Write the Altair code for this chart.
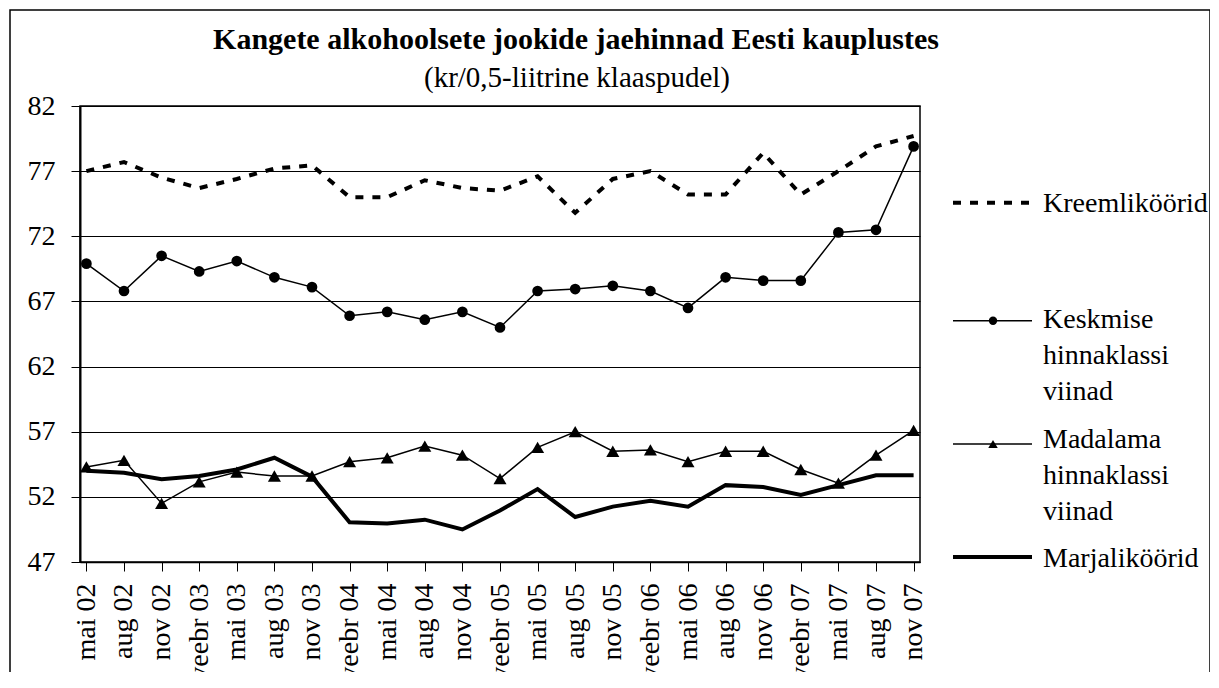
import altair as alt
import pandas as pd

months = ["mai 02", "aug 02", "nov 02", "veebr 03", "mai 03", "aug 03", "nov 03",
          "veebr 04", "mai 04", "aug 04", "nov 04", "veebr 05", "mai 05", "aug 05",
          "nov 05", "veebr 06", "mai 06", "aug 06", "nov 06", "veebr 07", "mai 07",
          "aug 07", "nov 07"]

kreem = [77.0, 77.7, 76.5, 75.7, 76.4, 77.2, 77.45, 75.0, 75.0, 76.3, 75.7, 75.5,
         76.6, 73.8, 76.4, 77.0, 75.2, 75.2, 78.4, 75.2, 77.0, 78.9, 79.7]
keskmise = [69.9, 67.8, 70.5, 69.3, 70.1, 68.85, 68.1, 65.9, 66.2, 65.6, 66.2, 65.0,
            67.8, 67.95, 68.2, 67.8, 66.5, 68.85, 68.6, 68.6, 72.3, 72.5, 78.9]
madalama = [54.3, 54.8, 51.5, 53.15, 53.9, 53.6, 53.6, 54.7, 55.0, 55.9, 55.2, 53.4,
            55.8, 57.0, 55.5, 55.6, 54.7, 55.5, 55.5, 54.1, 53.05, 55.2, 57.1]
marja = [54.0, 53.85, 53.35, 53.6, 54.1, 55.0, 53.55, 50.05, 49.95, 50.25, 49.5, 50.95,
         52.6, 50.45, 51.25, 51.7, 51.25, 52.9, 52.75, 52.15, 52.9, 53.65, 53.65]

y_ticks = [47, 52, 57, 62, 67, 72, 77, 82]

title_text = "Kangete alkohoolsete jookide jaehinnad Eesti kauplustes"
subtitle_text = "(kr/0,5-liitrine klaaspudel)"
legend_labels = ["Kreemliköörid", "Keskmise\nhinnaklassi\nviinad",
                 "Madalama\nhinnaklassi\nviinad", "Marjaliköörid"]

FONT = "Liberation Serif"

df = pd.DataFrame({"kuu": months, "kreem": kreem, "keskmise": keskmise,
                   "madalama": madalama, "marja": marja})

x_enc = alt.X("kuu:N", sort=months,
              scale=alt.Scale(type="point", padding=0.17),
              axis=alt.Axis(title=None, labelAngle=270, labelAlign="right",
                            labelBaseline="middle", labelFont=FONT, labelFontSize=28,
                            labelColor="black", labelPadding=12, tickSize=9,
                            tickColor="black", domainColor="black", domainWidth=1.5,
                            grid=False, labelOverlap=False))

y_axis = alt.Axis(title=None, values=y_ticks, grid=True, gridColor="black",
                  gridWidth=1, tickSize=9, tickColor="black", domainColor="black",
                  domainWidth=2, labelFont=FONT, labelFontSize=28, labelColor="black",
                  labelPadding=16)


def y_enc(col):
    return alt.Y(f"{col}:Q", scale=alt.Scale(domain=[47, 82], nice=False, zero=False),
                 axis=y_axis)


base = alt.Chart(df)

l_kreem = base.mark_line(color="black", strokeWidth=4, strokeDash=[8, 9]).encode(
    x=x_enc, y=y_enc("kreem"))
l_kesk = base.mark_line(color="black", strokeWidth=1.5).encode(x=x_enc, y=y_enc("keskmise"))
p_kesk = base.mark_point(filled=True, color="black", opacity=1, shape="circle",
                         size=115).encode(x=x_enc, y=y_enc("keskmise"))
l_mada = base.mark_line(color="black", strokeWidth=1.5).encode(x=x_enc, y=y_enc("madalama"))
p_mada = base.mark_point(filled=True, color="black", opacity=1, shape="triangle-up",
                         size=170).encode(x=x_enc, y=y_enc("madalama"))
l_marja = base.mark_line(color="black", strokeWidth=4).encode(x=x_enc, y=y_enc("marja"))

one = alt.Data(values=[{"k": 0}])

frame = alt.Chart(one).mark_rect(fillOpacity=0, stroke="black", strokeWidth=1.5).encode(
    x=alt.value(-70), x2=alt.value(1130), y=alt.value(-96), y2=alt.value(700))

joonis = alt.Chart(one).mark_text(text="Joonis 6", align="left", baseline="alphabetic",
                                  font=FONT, fontSize=28, color="black").encode(
    x=alt.value(1085), y=alt.value(-98))

title = alt.Chart(one).mark_text(text=title_text, align="center", baseline="alphabetic",
                                 font=FONT, fontSize=30, fontWeight="bold",
                                 color="black").encode(x=alt.value(496), y=alt.value(-57))
subtitle = alt.Chart(one).mark_text(text=subtitle_text, align="center",
                                    baseline="alphabetic", font=FONT, fontSize=29,
                                    color="black").encode(x=alt.value(497), y=alt.value(-19))

# legend
lg_x1, lg_x2, lg_mid, lg_tx = 873, 952, 913, 963
lg_rule_y = [96.7, 214.7, 338, 451]
lg_text_y = [106, 222, 342, 461]

leg = []
leg.append(alt.Chart(one).mark_rule(color="black", strokeWidth=4, strokeDash=[8, 9]).encode(
    x=alt.value(lg_x1), x2=alt.value(lg_x2), y=alt.value(lg_rule_y[0])))
leg.append(alt.Chart(one).mark_rule(color="black", strokeWidth=1.5).encode(
    x=alt.value(lg_x1), x2=alt.value(lg_x2), y=alt.value(lg_rule_y[1])))
leg.append(alt.Chart(one).mark_point(filled=True, color="black", opacity=1, shape="circle",
                                     size=70).encode(x=alt.value(lg_mid),
                                                     y=alt.value(lg_rule_y[1])))
leg.append(alt.Chart(one).mark_rule(color="black", strokeWidth=1.5).encode(
    x=alt.value(lg_x1), x2=alt.value(lg_x2), y=alt.value(lg_rule_y[2])))
leg.append(alt.Chart(one).mark_point(filled=True, color="black", opacity=1,
                                     shape="triangle-up", size=90).encode(
    x=alt.value(lg_mid), y=alt.value(lg_rule_y[2])))
leg.append(alt.Chart(one).mark_rule(color="black", strokeWidth=4).encode(
    x=alt.value(lg_x1), x2=alt.value(lg_x2), y=alt.value(lg_rule_y[3])))
for lab, ty in zip(legend_labels, lg_text_y):
    leg.append(alt.Chart(one).mark_text(text=lab, lineBreak="\n", lineHeight=36,
                                        align="left", baseline="alphabetic", font=FONT,
                                        fontSize=28, color="black").encode(
        x=alt.value(lg_tx), y=alt.value(ty)))

chart = alt.layer(frame, l_kreem, l_kesk, p_kesk, l_marja, l_mada, p_mada,
                  title, subtitle, joonis, *leg).properties(
    width=840, height=456,
    autosize=alt.AutoSizeParams(type="none"),
    padding={"left": 72, "top": 98, "right": 290, "bottom": 110},
    background="white",
).configure_view(stroke="black", strokeWidth=1.5)

chart.save("out.html", embed_options={"renderer": "svg", "actions": False})
